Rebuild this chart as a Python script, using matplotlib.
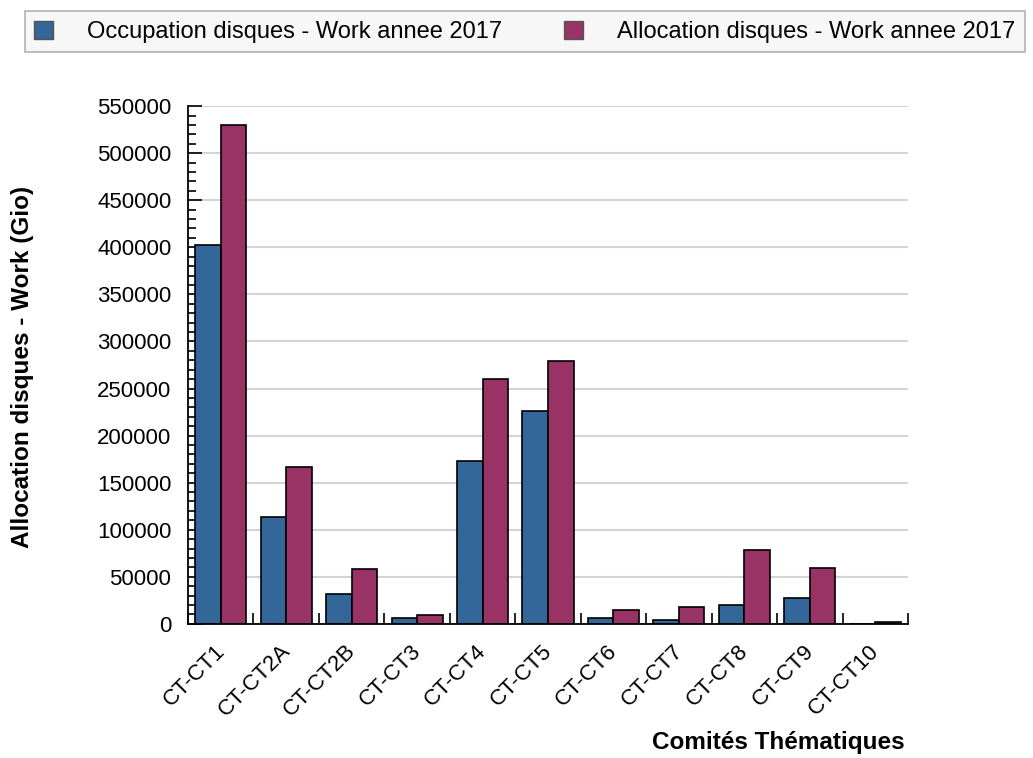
import numpy as np
import matplotlib.pyplot as plt
from matplotlib.patches import Patch
from matplotlib.ticker import MultipleLocator, FixedLocator

plt.rcParams['font.family'] = ['Liberation Sans', 'DejaVu Sans']

# disk usage per thematic committee (Gio)
comites = ['CT-CT1', 'CT-CT2A', 'CT-CT2B', 'CT-CT3', 'CT-CT4', 'CT-CT5',
           'CT-CT6', 'CT-CT7', 'CT-CT8', 'CT-CT9', 'CT-CT10']
occupation = [402000, 114000, 31600, 5700, 173300, 226500, 5700, 3900, 19500, 27300, 0]
allocation = [530000, 166700, 58500, 9200, 259600, 278800, 14200, 17700, 78400, 58900, 2100]

col_occ = '#336699'
col_alloc = '#993366'

fig = plt.figure(figsize=(10.33, 7.58), dpi=100)
ax = fig.add_axes([0.182, 0.177, 0.697, 0.683])

x = np.arange(len(comites))
w = 0.39
ax.bar(x - w / 2, occupation, w, color=col_occ, edgecolor='black', linewidth=1.2, zorder=3)
ax.bar(x + w / 2, allocation, w, color=col_alloc, edgecolor='black', linewidth=1.2, zorder=3)

ax.set_xlim(-0.5, len(comites) - 0.5)
ax.set_ylim(0, 550000)

ax.yaxis.set_major_locator(MultipleLocator(50000))
ax.yaxis.set_minor_locator(MultipleLocator(10000))
ax.grid(axis='y', which='major', color='#d4d4d4', linewidth=1.5, zorder=0)

# labels sit slightly left of the group centre (their ticks are hidden)
ax.set_xticks(x - 0.1)
ax.set_xticklabels(comites, rotation=45, ha='right', rotation_mode='anchor', fontsize=16)
ax.xaxis.set_minor_locator(FixedLocator(np.arange(-0.5, len(comites), 1.0)))
ax.tick_params(axis='x', which='major', length=0, pad=12)
ax.tick_params(axis='x', which='minor', direction='in', length=8, width=1.2, color='black')
ax.tick_params(axis='y', which='major', direction='in', length=10, width=1.2, labelsize=16, pad=12)
ax.tick_params(axis='y', which='minor', direction='in', length=6, width=1.2)

for s in ['top', 'right']:
    ax.spines[s].set_visible(False)
for s in ['left', 'bottom']:
    ax.spines[s].set_linewidth(1.3)
    ax.spines[s].set_zorder(4)

fig.text(0.022, 0.516, 'Allocation disques - Work (Gio)', rotation=90,
         ha='center', va='center', fontsize=17.5, fontweight='bold')
fig.text(0.876, 0.021, 'Comités Thématiques', ha='right', va='center',
         fontsize=17.5, fontweight='bold')

handles = [Patch(facecolor=col_occ, edgecolor='#555555'),
           Patch(facecolor=col_alloc, edgecolor='#555555')]
labels = ['Occupation disques - Work annee 2017', 'Allocation disques - Work annee 2017']
leg = fig.legend(handles, labels, loc='lower left', ncol=2, mode='expand',
                 bbox_to_anchor=(0.024, 0.931, 0.968, 0.06), fontsize=17,
                 frameon=True, fancybox=False, handlelength=0.8, handleheight=0.8,
                 handletextpad=1.45, borderaxespad=0, borderpad=0.4)
leg.get_frame().set_facecolor('#f6f6f6')
leg.get_frame().set_edgecolor('#a0a0a0')
leg.get_frame().set_linewidth(1.2)

fig.savefig('out.png', dpi=100)
